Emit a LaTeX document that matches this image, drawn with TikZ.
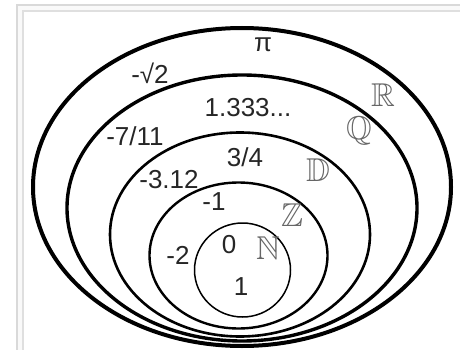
\documentclass[tikz,border=0pt]{standalone}
\usepackage{amssymb}
\usepackage{fontspec}
\setmainfont{Liberation Sans}
\begin{document}
\begin{tikzpicture}[x=1pt,y=-1pt,
  lbl/.style={inner sep=0pt,text=black!85,font=\fontsize{26}{26}\selectfont},
  setname/.style={inner sep=0pt,text=black!60,font=\fontsize{33}{33}\selectfont},
  ring/.style={draw=black}]
\useasboundingbox (0,0) rectangle (460,350);
\clip (0,0) rectangle (460,350);
\fill[white] (0,0) rectangle (460,350);
% frame
\filldraw[fill=gray!5,draw=gray!30,line width=1.2pt] (17,5) rectangle (480,370);
\filldraw[fill=white,draw=gray!25,line width=1.2pt] (23,11) rectangle (480,370);
% sets
\draw[ring,line width=4pt] (242,187) ellipse [x radius=209,y radius=159];
\draw[ring,line width=3.4pt] (242,208) ellipse [x radius=175,y radius=133];
\draw[ring,line width=2.6pt] (240,234.5) ellipse [x radius=130,y radius=102];
\draw[ring,line width=2.4pt] (238.5,255.5) ellipse [x radius=89,y radius=73];
\draw[ring,line width=1.5pt] (242.5,270) ellipse [x radius=48,y radius=47];
% labels
\node[lbl] (pi) at (263,45) {π};
\node[lbl] (sq2) at (150,73) {-√2};
\node[lbl] (q1) at (248,108) {1.333...};
\node[lbl] (q2) at (135,136) {-7/11};
\node[lbl] (d1) at (245,157) {3/4};
\node[lbl] (d2) at (169,180) {-3.12};
\node[lbl] (z1) at (214,202) {-1};
\node[lbl] (z2) at (178,255) {-2};
\node[lbl] (n0) at (229,245) {0};
\node[lbl] (n1) at (241,287) {1};
% set names
\node[setname] (R) at (383,95) {$\mathbb{R}$};
\node[setname] (Q) at (359,131) {$\mathbb{Q}$};
\node[setname] (D) at (318,170) {$\mathbb{D}$};
\node[setname] (Z) at (292,215) {$\mathbb{Z}$};
\node[setname] (N) at (268,248) {$\mathbb{N}$};
\end{tikzpicture}
\end{document}
